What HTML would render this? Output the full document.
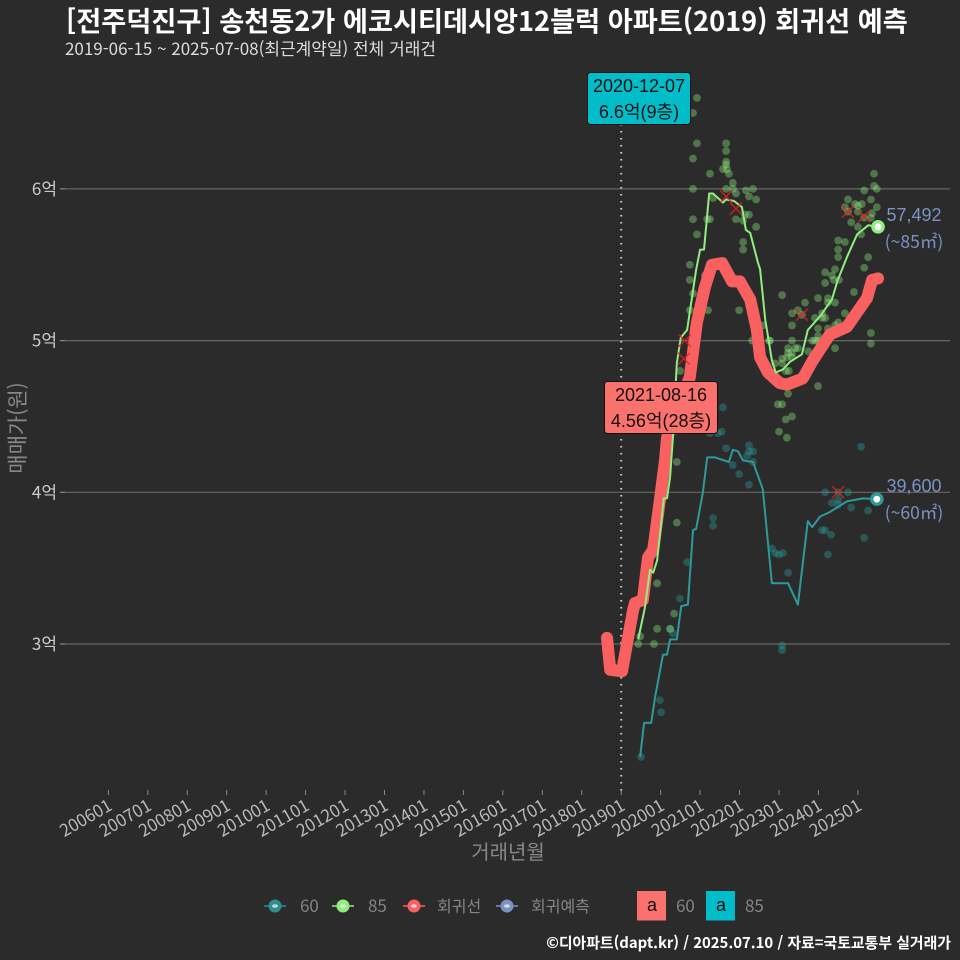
<!DOCTYPE html>
<html lang="ko">
<head>
<meta charset="utf-8">
<title>회귀선 예측</title>
<style>
html,body{margin:0;padding:0;background:#2b2b2b;}
svg{display:block;}
text{font-family:"Noto Sans CJK KR","Liberation Sans",sans-serif;}
.ann{font-family:"Liberation Sans","Noto Sans CJK KR",sans-serif;font-size:18px;fill:#111;text-anchor:middle;}
</style>
</head>
<body>
<svg id="chart" xmlns="http://www.w3.org/2000/svg" width="960" height="960" viewBox="0 0 960 960">
<rect width="960" height="960" fill="#2b2b2b"/>
<text x="66" y="31" font-size="27.2" font-weight="700" fill="#ffffff">[전주덕진구] 송천동2가 에코시티데시앙12블럭 아파트(2019) 회귀선 예측</text>
<text x="65" y="55" font-size="17" fill="#dddddd">2019-06-15 ~ 2025-07-08(최근계약일) 전체 거래건</text>
<g id="grid"></g>
<g id="axes"></g>
<g id="dots"></g>
<g id="lines"></g>
<g id="marks"></g>
<g id="ends"></g>
<text x="914" y="221" font-size="18" fill="#7b92c4" text-anchor="middle" style="font-family:'Liberation Sans',sans-serif">57,492</text>
<text x="914" y="248" font-size="17.5" fill="#7b92c4" text-anchor="middle">(~85㎡)</text>
<text x="914" y="492" font-size="18" fill="#7b92c4" text-anchor="middle" style="font-family:'Liberation Sans',sans-serif">39,600</text>
<text x="914" y="519" font-size="17.5" fill="#7b92c4" text-anchor="middle">(~60㎡)</text>
<g>
<rect x="587.5" y="72.5" width="103" height="52" rx="3" fill="#00bdc9" stroke="#111" stroke-width="1"/>
<text class="ann" x="639" y="92">2020-12-07</text>
<text class="ann" x="639" y="118">6.6억(9층)</text>
</g>
<g>
<rect x="604.5" y="381.5" width="113" height="52" rx="3" fill="#fb716d" stroke="#111" stroke-width="1"/>
<text class="ann" x="661" y="401">2021-08-16</text>
<text class="ann" x="661" y="427">4.56억(28층)</text>
</g>
<text x="508" y="859" font-size="20" fill="#888888" text-anchor="middle">거래년월</text>
<text transform="translate(25,428) rotate(-90)" font-size="21" fill="#888888" text-anchor="middle">매매가(원)</text>
<g id="legend"></g>
<text x="951" y="948" font-size="14.9" font-weight="700" fill="#ffffff" text-anchor="end">©디아파트(dapt.kr) / 2025.07.10 / 자료=국토교통부 실거래가</text>
</svg>
<script>
// Tick data
const xTickYears = [2006,2007,2008,2009,2010,2011,2012,2013,2014,2015,2016,2017,2018,2019,2020,2021,2022,2023,2024,2025];
const xTickLabels = ['200601','200701','200801','200901','201001','201101','201201','201301','201401','201501','201601','201701','201801','201901','202001','202101','202201','202301','202401','202501'];
const yTickValues = [3,4,5,6];
const yTickLabels = ['3억','4억','5억','6억'];
const markerYear = 2019;

// Series: year (decimal), price in 억
const line85Years = [2019.43,2019.60,2019.73,2019.81,2019.91,2020.08,2020.16,2020.24,2020.31,2020.41,2020.51,2020.67,2020.90,2021.00,2021.10,2021.23,2021.33,2021.58,2021.66,2021.86,2022.06,2022.16,2022.27,2022.47,2022.52,2022.65,2022.82,2022.92,2023.10,2023.28,2023.58,2023.73,2024.04,2024.34,2024.49,2024.72,2024.98,2025.26,2025.51];
const line85Values = [3.03,3.24,3.49,3.47,3.55,3.96,3.96,4.10,4.36,4.85,5.02,5.07,5.47,5.60,5.60,5.97,5.97,5.91,5.93,5.92,5.88,5.73,5.71,5.51,5.47,5.14,4.87,4.79,4.81,4.86,4.91,5.07,5.16,5.27,5.40,5.55,5.70,5.76,5.75];
const line60Years = [2019.48,2019.58,2019.76,2019.86,2020.06,2020.16,2020.24,2020.41,2020.52,2020.69,2020.82,2020.90,2021.07,2021.18,2021.38,2021.73,2021.83,2021.96,2022.09,2022.34,2022.59,2022.82,2023.23,2023.48,2023.73,2023.84,2024.04,2024.29,2024.72,2025.13,2025.48];
const line60Values = [2.255,2.48,2.48,2.65,2.93,2.93,3.03,3.03,3.25,3.26,3.75,3.76,4.00,4.23,4.23,4.20,4.28,4.27,4.21,4.20,4.02,3.40,3.40,3.26,3.81,3.77,3.84,3.87,3.94,3.96,3.955];
const regressionYears = [2018.64,2018.72,2019.02,2019.30,2019.35,2019.55,2019.68,2019.81,2019.98,2020.11,2020.16,2020.74,2020.92,2021.12,2021.30,2021.56,2021.81,2022.01,2022.27,2022.44,2022.52,2022.72,2023.02,2023.20,2023.60,2023.86,2024.29,2024.72,2025.23,2025.36,2025.51];
const regressionValues = [3.04,2.83,2.82,3.22,3.27,3.29,3.57,3.62,3.95,4.21,4.36,4.76,5.12,5.35,5.50,5.51,5.39,5.39,5.27,5.07,4.89,4.79,4.72,4.71,4.75,4.87,5.04,5.09,5.28,5.40,5.41];

// Transactions [year, price 억]
const deals85 = [[2020.92,6.60],[2020.82,6.50],[2020.92,6.30],[2021.66,6.30],[2021.66,6.25],[2020.82,6.20],[2021.66,6.18],[2021.66,6.16],[2021.58,6.13],[2021.68,6.13],[2021.73,6.10],[2021.25,6.10],[2021.83,6.04],[2021.83,6.00],[2020.82,6.00],[2021.66,6.00],[2022.16,5.99],[2022.34,6.00],[2021.91,5.97],[2022.24,5.95],[2022.42,5.93],[2021.33,5.94],[2020.82,5.80],[2021.18,5.80],[2021.25,5.80],[2021.91,5.80],[2022.09,5.79],[2022.14,5.83],[2022.24,5.83],[2022.42,5.75],[2020.92,5.70],[2022.09,5.65],[2022.09,5.60],[2020.74,5.50],[2020.74,5.40],[2020.82,5.31],[2020.74,5.20],[2021.12,5.43],[2021.20,5.20],[2021.99,5.20],[2022.59,5.10],[2022.32,5.00],[2022.77,5.00],[2020.49,4.80],[2020.41,4.20],[2020.41,3.80],[2019.91,3.40],[2020.34,3.20],[2019.91,3.10],[2020.24,3.10],[2019.48,3.05],[2019.43,3.00],[2019.83,3.00],[2025.41,6.10],[2025.41,6.02],[2025.48,6.00],[2025.16,5.99],[2025.33,5.93],[2025.48,5.88],[2024.75,5.93],[2024.67,5.88],[2024.93,5.90],[2025.00,5.89],[2025.10,5.90],[2025.36,5.84],[2024.75,5.85],[2025.00,5.85],[2025.16,5.81],[2024.83,5.78],[2025.00,5.75],[2025.33,5.81],[2025.08,5.70],[2024.50,5.66],[2024.67,5.65],[2024.50,5.60],[2024.50,5.55],[2025.26,5.55],[2025.16,5.48],[2024.17,5.45],[2024.42,5.47],[2024.34,5.43],[2024.39,5.40],[2024.52,5.40],[2024.17,5.38],[2024.90,5.32],[2023.99,5.28],[2024.24,5.28],[2023.08,5.30],[2023.66,5.25],[2024.24,5.25],[2024.42,5.25],[2023.33,5.18],[2023.48,5.20],[2023.58,5.17],[2024.09,5.18],[2023.91,5.15],[2024.09,5.15],[2024.17,5.15],[2024.67,5.18],[2023.33,5.10],[2023.99,5.08],[2024.50,5.12],[2024.42,5.10],[2024.24,5.08],[2025.33,5.05],[2023.99,5.03],[2023.33,5.00],[2023.84,5.00],[2023.91,5.00],[2023.99,5.00],[2025.33,4.98],[2024.42,4.95],[2023.23,4.95],[2023.41,4.95],[2023.23,4.92],[2023.33,4.92],[2023.48,4.95],[2023.74,4.93],[2023.08,4.88],[2023.33,4.89],[2023.08,4.85],[2022.90,4.85],[2023.25,4.80],[2023.17,4.80],[2022.75,5.00],[2023.20,4.89],[2022.97,4.58],[2023.08,4.58],[2023.17,4.48],[2023.00,4.40],[2023.20,4.36],[2023.33,4.50],[2023.23,4.65],[2023.99,4.70]];
const deals60 = [[2021.66,4.29],[2022.24,4.31],[2022.34,4.27],[2022.24,4.27],[2022.19,4.24],[2021.83,4.18],[2022.34,4.20],[2021.99,4.12],[2022.24,4.05],[2021.33,3.83],[2021.33,3.78],[2020.67,3.54],[2020.49,3.30],[2020.24,3.10],[2020.31,3.07],[2022.82,3.63],[2022.90,3.60],[2023.00,3.59],[2023.10,3.60],[2023.23,3.47],[2021.58,4.56],[2021.55,4.40],[2021.45,4.39],[2021.25,4.39],[2019.98,2.63],[2020.01,2.55],[2019.50,2.255],[2025.08,4.30],[2024.17,4.00],[2024.50,4.00],[2024.75,4.00],[2024.34,3.93],[2024.50,3.95],[2024.50,3.92],[2024.83,3.90],[2025.26,3.88],[2024.09,3.75],[2024.17,3.75],[2024.32,3.72],[2025.16,3.70],[2024.24,3.59],[2023.08,2.99],[2023.08,2.96]];
// Recent-deal highlights [year, price 억]
const recentDeals = [[2020.61,5.00],[2020.59,4.88],[2021.66,5.95],[2021.91,5.87],[2024.75,5.85],[2025.16,5.82],[2023.58,5.17],[2024.50,4.00]];
// Latest values
const end85 = [2025.51,5.75];
const end60 = [2025.48,3.955];

const xScale = y => 621.2 + (y - 2019) * 39.45;
const yScale = v => 644 - (v - 3) * 151.7;
const NS = 'http://www.w3.org/2000/svg';
function make(tag, attrs, parent, txt){
  const el = document.createElementNS(NS, tag);
  for (const k in attrs) el.setAttribute(k, attrs[k]);
  if (txt !== undefined) el.textContent = txt;
  parent.appendChild(el);
  return el;
}
const grid = document.getElementById('grid');
const axes = document.getElementById('axes');
yTickValues.forEach((v,i)=>{
  const gl = make('line',{x1:60,x2:950,y1:yScale(v),y2:yScale(v),stroke:'#666666','stroke-width':1.2},grid);
  
  
  const tick = make('line',{x1:60,x2:65,y1:yScale(v),y2:yScale(v),stroke:'#8a8a8a','stroke-width':1},axes);
  
  
  const t = make('text',{x:57,y:yScale(v)+6,'font-size':17,fill:'#cccccc','text-anchor':'end'},axes,yTickLabels[i]);
  
  
});
xTickYears.forEach((y,i)=>{
  const x = xScale(y);
  const tick = make('line',{x1:x,x2:x,y1:790,y2:795,stroke:'#8a8a8a','stroke-width':1},axes);
  
  
  const t = make('text',{transform:`translate(${x+5},809) rotate(-30)`,'font-size':17,fill:'#bbbbbb','text-anchor':'end'},axes,xTickLabels[i]);
  
  
});
const vline = make('line',{x1:xScale(markerYear),x2:xScale(markerYear),y1:124,y2:795,stroke:'#cccccc','stroke-width':2,'stroke-dasharray':'1.5 5.5'},axes);



const dots = document.getElementById('dots');
deals60.forEach(d=>{
  const c = make('circle',{cx:xScale(d[0]),cy:yScale(d[1]),r:3.9,fill:'#2e9a9a','fill-opacity':0.4},dots);
  
  
});
deals85.forEach(d=>{
  const c = make('circle',{cx:xScale(d[0]),cy:yScale(d[1]),r:3.9,fill:'#90ee80','fill-opacity':0.38},dots);
  
  
});
function linePath(xs, ys){
  return xs.map((x,i)=>(i?'L':'M')+xScale(x).toFixed(1)+' '+yScale(ys[i]).toFixed(1)).join('');
}
const lines = document.getElementById('lines');
const l60 = make('path',{d:linePath(line60Years,line60Values),fill:'none',stroke:'#2e9a9a','stroke-width':2,'stroke-linejoin':'round'},lines);


const lreg = make('path',{d:linePath(regressionYears,regressionValues),fill:'none',stroke:'#f8615f','stroke-width':12,'stroke-linejoin':'round','stroke-linecap':'round'},lines);


const l85 = make('path',{d:linePath(line85Years,line85Values),fill:'none',stroke:'#90ee80','stroke-width':2,'stroke-linejoin':'round'},lines);



const marks = document.getElementById('marks');
recentDeals.forEach(d=>{
  const x = xScale(d[0]), y = yScale(d[1]);
  const m = make('path',{d:`M${x-6} ${y-6}L${x+6} ${y+6}M${x-6} ${y+6}L${x+6} ${y-6}`,stroke:'#e8201c','stroke-width':1.4,'stroke-opacity':0.85,fill:'none'},marks);
  
  
});
const ends = document.getElementById('ends');
[[end85,'#90ee80'],[end60,'#2e9a9a']].forEach(e=>{
  const o = make('circle',{cx:xScale(e[0][0]),cy:yScale(e[0][1]),r:6.8,fill:e[1]},ends);
  
  
  const i = make('circle',{cx:xScale(e[0][0]),cy:yScale(e[0][1]),r:3.4,fill:'#ffffff'},ends);
  
  
});

const legend = document.getElementById('legend');
const legendLabels = ['60','85','회귀선','회귀예측'];
const legendColors = ['#2e8f90','#90ee80','#f8615f','#7b92c4'];
const legendKeyX = [275,343,414,507];
const legendTextX = [300,368,437,531];
const legendFontSize = [17,17,16,16];
legendLabels.forEach((lab,i)=>{
  const cx = legendKeyX[i];
  const ln = make('line',{x1:cx-11,x2:cx+11,y1:906,y2:906,stroke:legendColors[i],'stroke-width':1.5},legend);
  
  
  const c = make('circle',{cx:cx,cy:906,r:6.5,fill:legendColors[i]},legend);
  
  
  const w = make('ellipse',{cx:cx,cy:906,rx:3,ry:1.8,fill:'#e8e8e8','fill-opacity':0.8},legend);
  
  
  const t = make('text',{x:legendTextX[i],y:912,'font-size':legendFontSize[i],fill:'#858585'},legend,lab);
  
  
});
const boxX = [637,706];
const boxColors = ['#fb716d','#00bdc9'];
const boxLabels = ['60','85'];
boxX.forEach((x,i)=>{
  const r = make('rect',{x:x,y:891,width:29,height:29.5,fill:boxColors[i]},legend);
  
  
  const a = make('text',{x:x+15,y:911,'font-size':18,fill:'#111111','text-anchor':'middle',style:"font-family:'Liberation Sans',sans-serif"},legend,'a');
  
  
  const t = make('text',{x:x+39,y:912,'font-size':17,fill:'#858585'},legend,boxLabels[i]);
  
  
});
</script>
</body>
</html>
